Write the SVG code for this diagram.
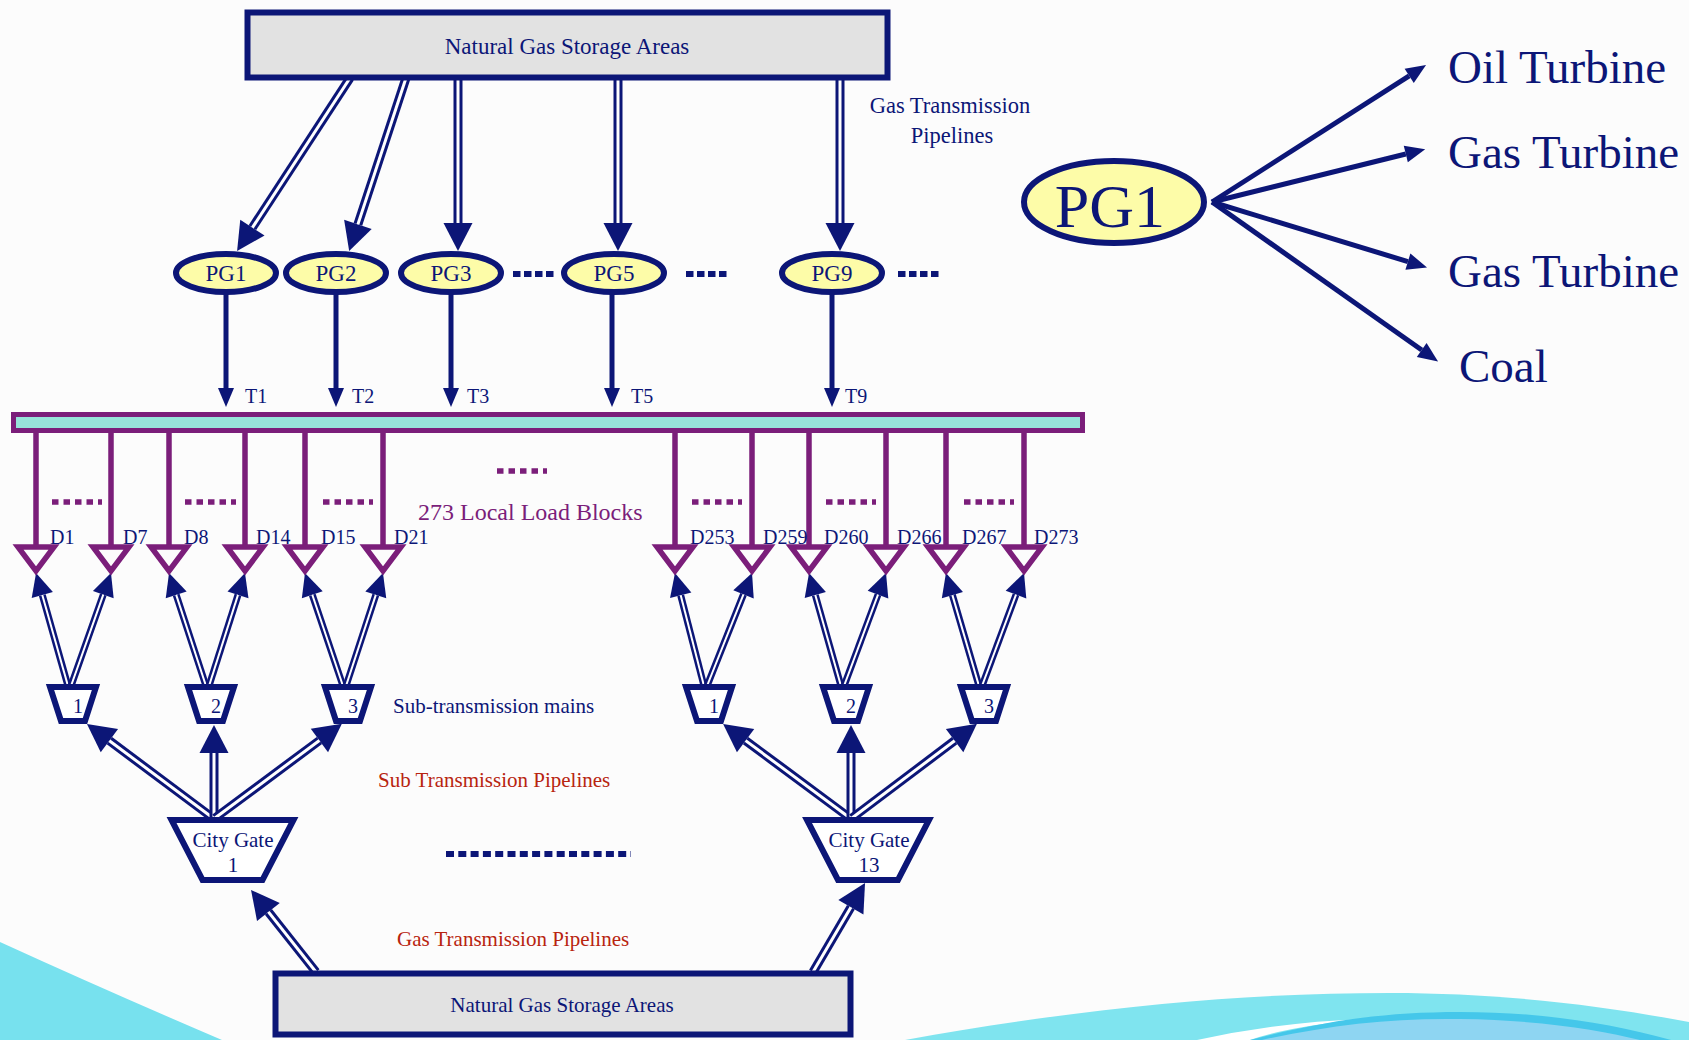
<svg xmlns="http://www.w3.org/2000/svg" width="1689" height="1040" viewBox="0 0 1689 1040">
<defs>
<style>
text{font-family:"Liberation Serif","Times New Roman",serif;fill:#0c1677}
.pu{fill:#7b1e7a}
.red{fill:#b8240f}
.o{fill:none;stroke:#0c1677;stroke-width:9}
.i{fill:none;stroke:#ffffff;stroke-width:3}
.os{fill:none;stroke:#0c1677;stroke-width:7}
.is{fill:none;stroke:#ffffff;stroke-width:2}
.s{fill:none;stroke:#0c1677;stroke-width:5}
.pl{fill:none;stroke:#7b1e7a;stroke-width:5.5}
.tri{fill:none;stroke:#7b1e7a;stroke-width:5.5;stroke-linejoin:miter}
.trap{fill:#fff;stroke:#0c1677;stroke-width:6;stroke-linejoin:miter}
.pg{fill:#fdfca8;stroke:#0c1677;stroke-width:6}
.box{fill:#e2e2e2;stroke:#0c1677;stroke-width:6}
.nd{fill:none;stroke:#0c1677;stroke-width:6;stroke-dasharray:7.5 3.5}
.pd{fill:none;stroke:#7b1e7a;stroke-width:5.5;stroke-dasharray:6.5 5}
</style>
<marker id="aB" markerUnits="userSpaceOnUse" viewBox="0 -15 30 30" markerWidth="30" markerHeight="30" refX="0" refY="0" orient="auto" overflow="visible"><path d="M0,-14.5 L28,0 L0,14.5 Z" fill="#0c1677"/></marker>
<marker id="aM" markerUnits="userSpaceOnUse" viewBox="0 -12 25 24" markerWidth="25" markerHeight="24" refX="0" refY="0" orient="auto" overflow="visible"><path d="M0,-11 L23,0 L0,11 Z" fill="#0c1677"/></marker>
<marker id="aS" markerUnits="userSpaceOnUse" viewBox="0 -9 20 18" markerWidth="20" markerHeight="18" refX="0" refY="0" orient="auto" overflow="visible"><path d="M0,-8 L19,0 L0,8 Z" fill="#0c1677"/></marker>
<marker id="aR" markerUnits="userSpaceOnUse" viewBox="0 -9 21 18" markerWidth="21" markerHeight="18" refX="0" refY="0" orient="auto" overflow="visible"><path d="M0,-8.5 L20,0 L0,8.5 Z" fill="#0c1677"/></marker>
</defs>

<rect x="0" y="0" width="1689" height="1040" fill="#fcfcfc"/>
<g id="background-waves">
<path d="M0,942 Q105,990 222,1040 L0,1040 Z" fill="#77e1ee"/>
<path d="M905,1040 C1100,1005 1250,993 1390,993 C1500,993 1600,1005 1689,1022 L1689,1040 Z" fill="#7fe4ef"/>
<path d="M1197,1040 Q1280,1022 1365,1019 Q1290,1026 1250,1040 Z" fill="#ffffff"/>
<path d="M1250,1040 C1320,1022 1380,1012 1460,1012 C1550,1012 1620,1025 1689,1045 L1689,1040 Z" fill="#45c7ea"/>
<path d="M1262,1040 C1330,1025 1390,1018 1460,1019 C1540,1020 1600,1030 1640,1040 Z" fill="#8ed5f2"/>
</g>

<g id="connectors">
<path class="o" d="M350,78 L252.4,227.6" marker-end="url(#aB)"/><path class="i" d="M350,78 L252.4,227.6"/>
<path class="o" d="M406,78 L357.9,224.4" marker-end="url(#aB)"/><path class="i" d="M406,78 L357.9,224.4"/>
<path class="o" d="M458,78 L458,223" marker-end="url(#aB)"/><path class="i" d="M458,78 L458,223"/>
<path class="o" d="M618,78 L618,223" marker-end="url(#aB)"/><path class="i" d="M618,78 L618,223"/>
<path class="o" d="M840,78 L840,223" marker-end="url(#aB)"/><path class="i" d="M840,78 L840,223"/>
<path class="s" d="M226,294 L226,388" marker-end="url(#aS)"/>
<path class="s" d="M336,294 L336,388" marker-end="url(#aS)"/>
<path class="s" d="M451,294 L451,388" marker-end="url(#aS)"/>
<path class="s" d="M612,294 L612,388" marker-end="url(#aS)"/>
<path class="s" d="M832,294 L832,388" marker-end="url(#aS)"/>
<path class="pl" d="M36,432 V547 M111,432 V547 M169,432 V547 M245,432 V547 M305,432 V547 M383,432 V547 M675,432 V547 M752,432 V547 M809,432 V547 M886,432 V547 M946,432 V547 M1024,432 V547"/>
<path class="os" d="M68,686 L42.3,595.1" marker-end="url(#aM)"/><path class="is" d="M68,686 L42.3,595.1"/>
<path class="os" d="M71,686 L103.3,594.7" marker-end="url(#aM)"/><path class="is" d="M71,686 L103.3,594.7"/>
<path class="os" d="M206,686 L176.2,594.9" marker-end="url(#aM)"/><path class="is" d="M206,686 L176.2,594.9"/>
<path class="os" d="M209,686 L238,594.9" marker-end="url(#aM)"/><path class="is" d="M209,686 L238,594.9"/>
<path class="os" d="M343,686 L312.3,594.8" marker-end="url(#aM)"/><path class="is" d="M343,686 L312.3,594.8"/>
<path class="os" d="M346,686 L375.8,594.9" marker-end="url(#aM)"/><path class="is" d="M346,686 L375.8,594.9"/>
<path class="os" d="M704,686 L680.7,595.3" marker-end="url(#aM)"/><path class="is" d="M704,686 L680.7,595.3"/>
<path class="os" d="M707,686 L743.5,594.4" marker-end="url(#aM)"/><path class="is" d="M707,686 L743.5,594.4"/>
<path class="os" d="M841,686 L815.3,595.1" marker-end="url(#aM)"/><path class="is" d="M841,686 L815.3,595.1"/>
<path class="os" d="M844,686 L878,594.6" marker-end="url(#aM)"/><path class="is" d="M844,686 L878,594.6"/>
<path class="os" d="M979,686 L952.4,595.1" marker-end="url(#aM)"/><path class="is" d="M979,686 L952.4,595.1"/>
<path class="os" d="M982,686 L1016,594.6" marker-end="url(#aM)"/><path class="is" d="M982,686 L1016,594.6"/>
<path class="o" d="M213,818 L109.4,740.7" marker-end="url(#aB)"/><path class="i" d="M213,818 L109.4,740.7"/>
<path class="o" d="M214,818 L214,753" marker-end="url(#aB)"/><path class="i" d="M214,818 L214,753"/>
<path class="o" d="M215,818 L319.4,740.5" marker-end="url(#aB)"/><path class="i" d="M215,818 L319.4,740.5"/>
<path class="o" d="M850,818 L745.6,740.6" marker-end="url(#aB)"/><path class="i" d="M850,818 L745.6,740.6"/>
<path class="o" d="M851,818 L851,753" marker-end="url(#aB)"/><path class="i" d="M851,818 L851,753"/>
<path class="o" d="M852,818 L954.6,740.7" marker-end="url(#aB)"/><path class="i" d="M852,818 L954.6,740.7"/>
<path class="o" d="M316,972 L268.4,911.9" marker-end="url(#aB)"/><path class="i" d="M316,972 L268.4,911.9"/>
<path class="o" d="M813,972 L850.9,907.2" marker-end="url(#aB)"/><path class="i" d="M813,972 L850.9,907.2"/>
<path class="s" d="M1212,202 L1409.2,75.8" marker-end="url(#aR)"/>
<path class="s" d="M1212,202 L1405.8,154" marker-end="url(#aR)"/>
<path class="s" d="M1212,202 L1407.9,261.6" marker-end="url(#aR)"/>
<path class="s" d="M1212,202 L1421.7,350" marker-end="url(#aR)"/>
</g>

<g id="storage-top">
<rect class="box" x="247.5" y="12.5" width="640" height="65"/>
<text x="567" y="54" font-size="23" text-anchor="middle">Natural Gas Storage Areas</text>
</g>
<g id="label-gas-transmission-top">
<text x="950" y="113" font-size="22.5" text-anchor="middle">Gas Transmission</text>
<text x="952" y="143" font-size="22.5" text-anchor="middle">Pipelines</text>
</g>

<g id="PG1"><ellipse class="pg" cx="226" cy="273" rx="50" ry="19"/><text x="226" y="281" font-size="23" text-anchor="middle">PG1</text></g>
<g id="PG2"><ellipse class="pg" cx="336" cy="273" rx="50" ry="19"/><text x="336" y="281" font-size="23" text-anchor="middle">PG2</text></g>
<g id="PG3"><ellipse class="pg" cx="451" cy="273" rx="50" ry="19"/><text x="451" y="281" font-size="23" text-anchor="middle">PG3</text></g>
<g id="PG5"><ellipse class="pg" cx="614" cy="273" rx="50" ry="19"/><text x="614" y="281" font-size="23" text-anchor="middle">PG5</text></g>
<g id="PG9"><ellipse class="pg" cx="832" cy="273" rx="50" ry="19"/><text x="832" y="281" font-size="23" text-anchor="middle">PG9</text></g>
<g id="pg-dots">
<path class="nd" d="M513,274 H555 M686,274 H728 M898,274 H940"/>
</g>
<g id="t-labels">
<text x="245" y="403" font-size="20">T1</text>
<text x="352" y="403" font-size="20">T2</text>
<text x="467" y="403" font-size="20">T3</text>
<text x="631" y="403" font-size="20">T5</text>
<text x="845" y="403" font-size="20">T9</text>
</g>

<g id="bus">
<rect x="13.5" y="414.5" width="1069" height="16" fill="#97e3da" stroke="#7b1e7a" stroke-width="5"/>
</g>

<g id="load-blocks">
<path class="tri" d="M18,547 L54,547 L36,571 Z M93,547 L129,547 L111,571 Z M151,547 L187,547 L169,571 Z M227,547 L263,547 L245,571 Z M287,547 L323,547 L305,571 Z M365,547 L401,547 L383,571 Z M657,547 L693,547 L675,571 Z M734,547 L770,547 L752,571 Z M791,547 L827,547 L809,571 Z M868,547 L904,547 L886,571 Z M928,547 L964,547 L946,571 Z M1006,547 L1042,547 L1024,571 Z"/>
<path class="pd" d="M52,502 H102 M185,502 H236 M323,502 H373 M692,502 H742 M826,502 H876 M964,502 H1014 M497,471 H547"/>
<text x="50" y="544" font-size="20">D1</text>
<text x="123" y="544" font-size="20">D7</text>
<text x="184" y="544" font-size="20">D8</text>
<text x="256" y="544" font-size="20">D14</text>
<text x="321" y="544" font-size="20">D15</text>
<text x="394" y="544" font-size="20">D21</text>
<text x="690" y="544" font-size="20">D253</text>
<text x="763" y="544" font-size="20">D259</text>
<text x="824" y="544" font-size="20">D260</text>
<text x="897" y="544" font-size="20">D266</text>
<text x="962" y="544" font-size="20">D267</text>
<text x="1034" y="544" font-size="20">D273</text>
<text x="418" y="520" font-size="24" class="pu">273 Local Load Blocks</text>
</g>

<g id="sub-mains-left">
<path class="trap" d="M50,687 L96,687 L85,721 L61,721 Z"/><text x="78" y="713" font-size="20" text-anchor="middle">1</text>
<path class="trap" d="M188,687 L234,687 L223,721 L199,721 Z"/><text x="216" y="713" font-size="20" text-anchor="middle">2</text>
<path class="trap" d="M325,687 L371,687 L360,721 L336,721 Z"/><text x="353" y="713" font-size="20" text-anchor="middle">3</text>
</g>
<g id="sub-mains-right">
<path class="trap" d="M686,687 L732,687 L721,721 L697,721 Z"/><text x="714" y="713" font-size="20" text-anchor="middle">1</text>
<path class="trap" d="M823,687 L869,687 L858,721 L834,721 Z"/><text x="851" y="713" font-size="20" text-anchor="middle">2</text>
<path class="trap" d="M961,687 L1007,687 L996,721 L972,721 Z"/><text x="989" y="713" font-size="20" text-anchor="middle">3</text>
</g>
<text x="393" y="713" font-size="21">Sub-transmission mains</text>
<text x="378" y="787" font-size="21" class="red">Sub Transmission Pipelines</text>

<g id="city-gate-1">
<path class="trap" d="M171.5,820 L293.5,820 L262.5,880 L202.5,880 Z"/>
<text x="233" y="847" font-size="21" text-anchor="middle">City Gate</text>
<text x="233" y="872" font-size="21" text-anchor="middle">1</text>
</g>
<g id="city-gate-13">
<path class="trap" d="M807,820 L929,820 L898,880 L838,880 Z"/>
<text x="869" y="847" font-size="21" text-anchor="middle">City Gate</text>
<text x="869" y="872" font-size="21" text-anchor="middle">13</text>
</g>
<path class="nd" d="M446,854 H631" style="stroke-dasharray:8 4.3"/>
<text x="397" y="946" font-size="21" class="red">Gas Transmission Pipelines</text>

<g id="storage-bottom">
<rect class="box" x="275.5" y="973.5" width="575" height="61"/>
<text x="562" y="1012" font-size="21" text-anchor="middle">Natural Gas Storage Areas</text>
</g>

<g id="PG1-detail">
<ellipse class="pg" cx="1114" cy="202" rx="90" ry="41"/>
<text x="1110" y="227" font-size="62" text-anchor="middle">PG1</text>
</g>
<g id="oil-turbine"><text x="1448" y="83" font-size="47">Oil Turbine</text></g>
<g id="gas-turbine-1"><text x="1448" y="168" font-size="47">Gas Turbine</text></g>
<g id="gas-turbine-2"><text x="1448" y="287" font-size="47">Gas Turbine</text></g>
<g id="coal"><text x="1459" y="382" font-size="47">Coal</text></g>
</svg>
